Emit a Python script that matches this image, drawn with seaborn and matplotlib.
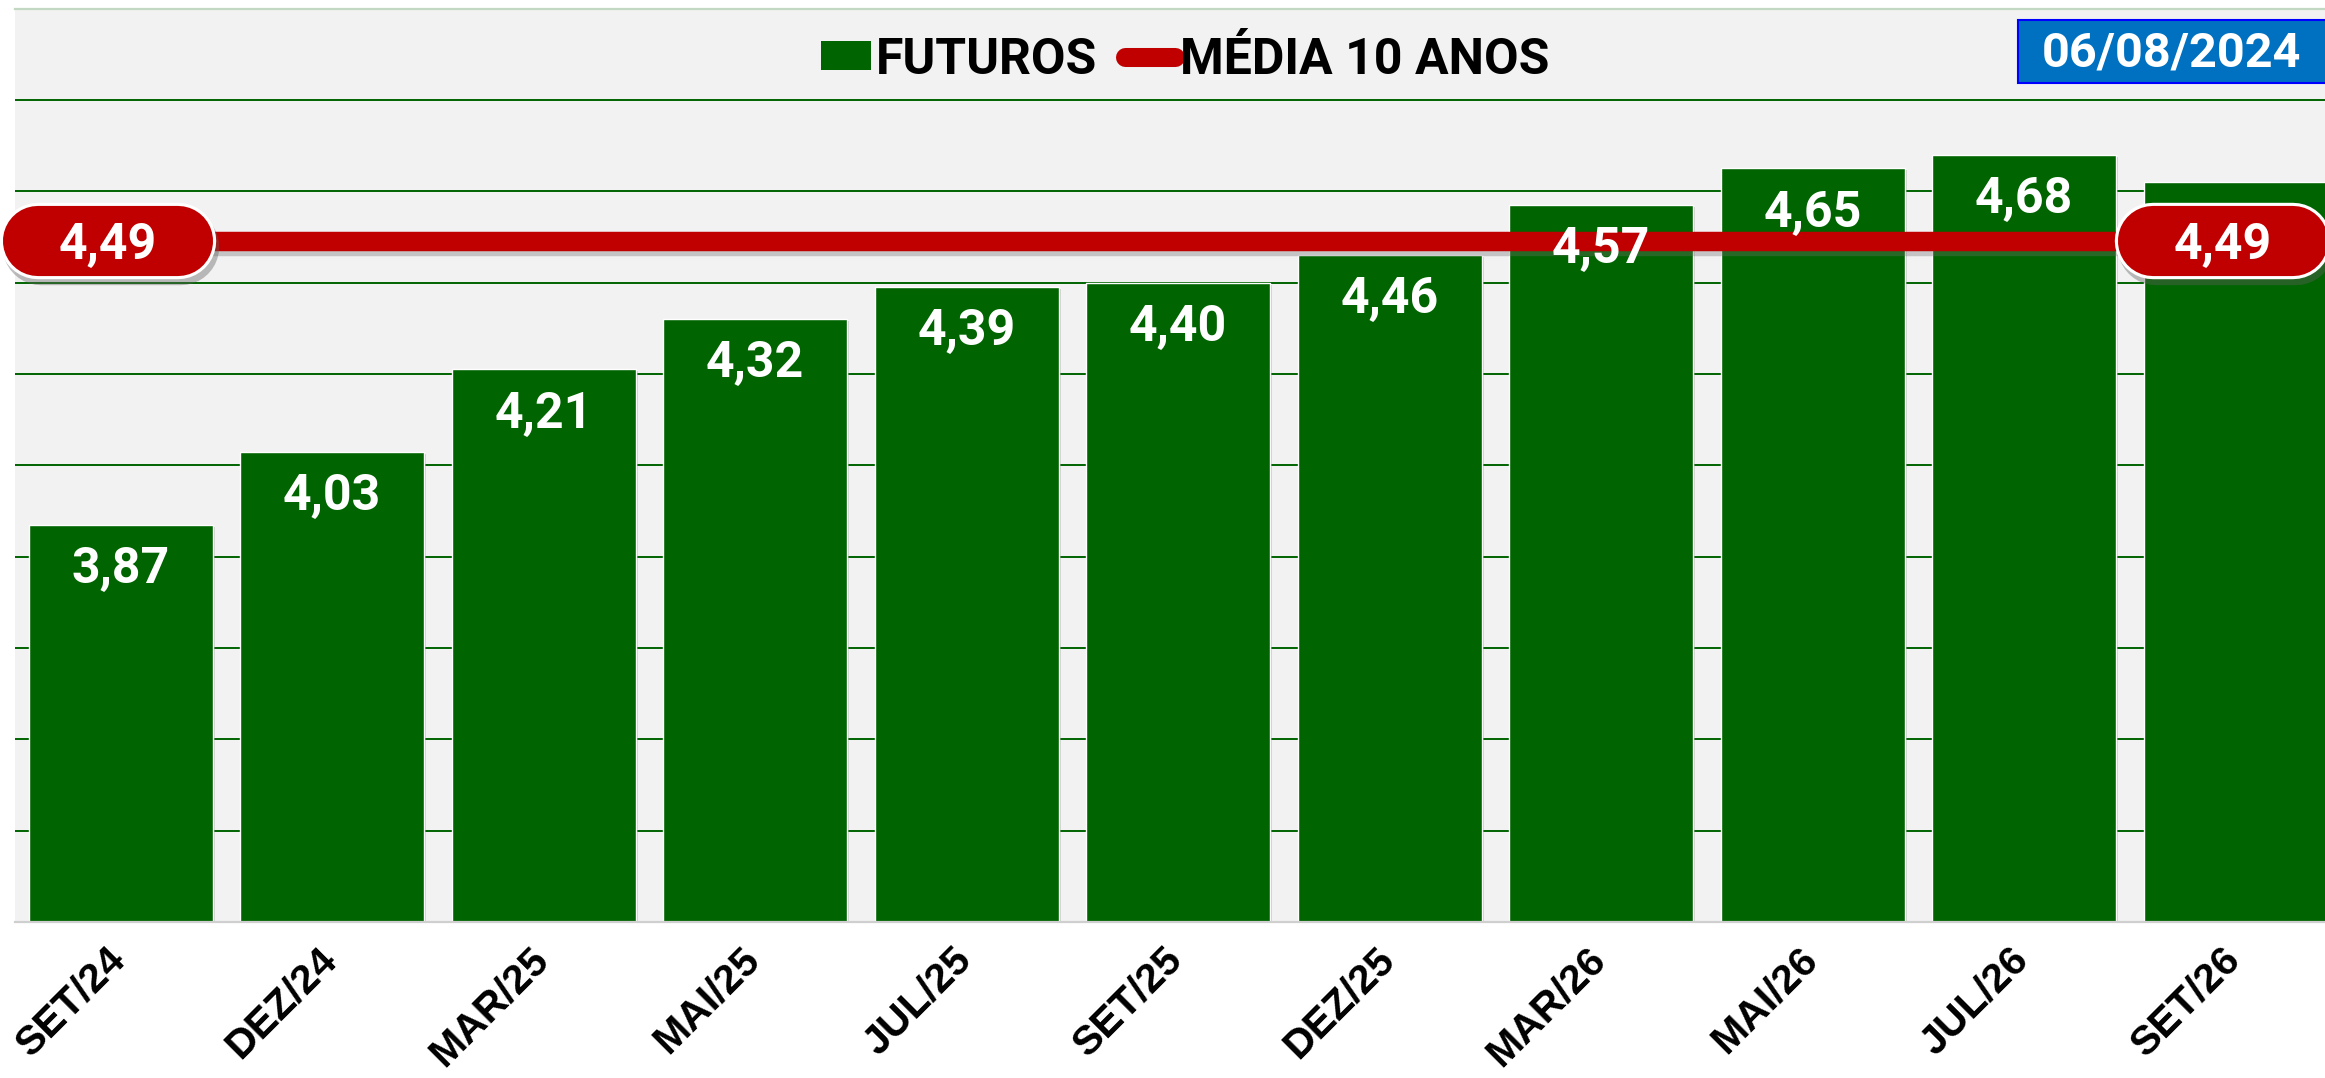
import numpy as np
import pandas as pd
import matplotlib
matplotlib.use("Agg")
import matplotlib.pyplot as plt
import matplotlib.patheffects as pe
import matplotlib.transforms as mtransforms
from matplotlib.patches import Patch, Rectangle
from matplotlib.lines import Line2D
import seaborn as sns

# ---- data -------------------------------------------------------------
categorias = ["SET/24", "DEZ/24", "MAR/25", "MAI/25", "JUL/25", "SET/25",
              "DEZ/25", "MAR/26", "MAI/26", "JUL/26", "SET/26"]
futuros = [3.87, 4.03, 4.21, 4.32, 4.39, 4.40, 4.46, 4.57, 4.65, 4.68, 4.62]
media_10_anos = [4.49] * len(categorias)
grade_y = [3.2, 3.4, 3.6, 3.8, 4.0, 4.2, 4.4, 4.6, 4.8]
data_ref = "06/08/2024"

# ---- style ------------------------------------------------------------
VERDE = "#006400"
VERMELHO = "#C00000"
FUNDO = "#F2F2F2"
AZUL = "#0070C0"

sns.set_style("white")
plt.rcParams["font.family"] = ["Roboto", "DejaVu Sans"]
plt.rcParams["text.color"] = "black"

DPI = 100
W, H = 2325, 1078
fig = plt.figure(figsize=(W / DPI, H / DPI), dpi=DPI, facecolor="white")

# plot area in pixels (from the top-left corner of the figure)
left_px, top_px, bottom_px = 15, 8.5, 922
pitch_px = 211.5
ax_w = pitch_px * len(categorias)
ax = fig.add_axes([left_px / W, (H - bottom_px) / H, ax_w / W, (bottom_px - top_px) / H])
ax.set_facecolor(FUNDO)

df = pd.DataFrame({"categoria": categorias, "futuros": futuros, "media": media_10_anos})

def fmt(v):
    return f"{v:.2f}".replace(".", ",")

# bars
sns.barplot(data=df, x="categoria", y="futuros", color=VERDE, saturation=1,
            width=0.87, ax=ax, zorder=2)
for bar in ax.patches:
    bar.set_path_effects([pe.SimplePatchShadow(offset=(1.5, -1.5), shadow_rgbFace="#808080", alpha=0.35),
                          pe.Normal()])

# ten-year average line
xpos = np.arange(len(categorias))
sns.lineplot(x=xpos, y=df["media"], color=VERMELHO, linewidth=14, ax=ax, zorder=3,
             solid_capstyle="butt",
             path_effects=[pe.SimpleLineShadow(offset=(0, -3), shadow_color="#707070", alpha=0.35),
                           pe.Normal()])

# pill labels at both ends of the average line
pill_idx = (0, len(categorias) - 1)
half = 0.33
for i in pill_idx:
    xc = xpos[i] - 0.06
    yv = df["media"].iloc[i]
    ax.plot([xc - half, xc + half], [yv, yv], color="white", linewidth=55,
            solid_capstyle="round", zorder=5, clip_on=False,
            path_effects=[pe.SimpleLineShadow(offset=(2, -4), shadow_color="#606060", alpha=0.4),
                          pe.Normal()])
    ax.plot([xc - half, xc + half], [yv, yv], color=VERMELHO, linewidth=50.5,
            solid_capstyle="round", zorder=6, clip_on=False)
    ax.annotate(fmt(yv), xy=(xc, yv), xytext=(0, -12.8), textcoords="offset points",
                ha="center", va="baseline", color="white", fontsize=36,
                fontweight="bold", zorder=7)

# value labels inside the bars (the last one sits under the end pill)
for i, v in enumerate(df["futuros"]):
    if i == pill_idx[-1]:
        continue
    ax.annotate(fmt(v), xy=(i, v), xytext=(0, -42), textcoords="offset points",
                ha="center", va="baseline", color="white", fontsize=36,
                fontweight="bold", zorder=4)

# axes cosmetics
ax.set_xlim(-0.5, len(categorias) - 0.5)
ax.set_ylim(3.0, 5.0)
ax.set_yticks(grade_y)
ax.set_yticklabels([])
ax.yaxis.grid(True, color=VERDE, linewidth=1.4)
ax.xaxis.grid(False)
ax.set_axisbelow(True)
ax.tick_params(axis="y", length=0)
ax.tick_params(axis="x", length=0, pad=13)
ax.set_xticks(xpos)
ax.set_xticklabels(categorias, rotation=45, ha="right", fontsize=29.5, color="black",
                   fontweight="bold")
shift = mtransforms.ScaledTranslation(12 / DPI, 0, fig.dpi_scale_trans)
for lbl in ax.get_xticklabels():
    lbl.set_fontfamily(["Liberation Sans", "DejaVu Sans"])
    lbl.set_transform(lbl.get_transform() + shift)
ax.set_xlabel("")
ax.set_ylabel("")
for s in ("left", "right"):
    ax.spines[s].set_visible(False)
ax.spines["top"].set_color("#C2D8C2")
ax.spines["top"].set_linewidth(1.6)
ax.spines["bottom"].set_color("#CFCFCF")
ax.spines["bottom"].set_linewidth(1.6)

# legend
handles = [Patch(facecolor=VERDE, edgecolor="none"),
           Line2D([0], [0], color=VERMELHO, linewidth=13.7, solid_capstyle="round")]
leg = fig.legend(handles, ["FUTUROS", "MÉDIA 10 ANOS"], loc="center",
                 bbox_to_anchor=(1185 / W, 1 - 60 / H), ncol=2, frameon=False,
                 prop={"family": "Roboto", "weight": "bold", "size": 36},
                 handlelength=1.0, handleheight=0.52, handletextpad=0.1,
                 columnspacing=0.55)
for t in leg.get_texts():
    t.set_color("black")

# date stamp
fig.add_artist(Rectangle((2018 / W, 1 - 83 / H), 320 / W, 63 / H,
                         transform=fig.transFigure, facecolor=AZUL,
                         edgecolor="#0000FF", linewidth=1.5, zorder=10))
fig.text(2171 / W, 1 - 66.7 / H, data_ref, ha="center", va="baseline",
         color="white", fontsize=35, fontweight="bold", zorder=11)

fig.savefig("out.png", dpi=DPI, facecolor="white")
